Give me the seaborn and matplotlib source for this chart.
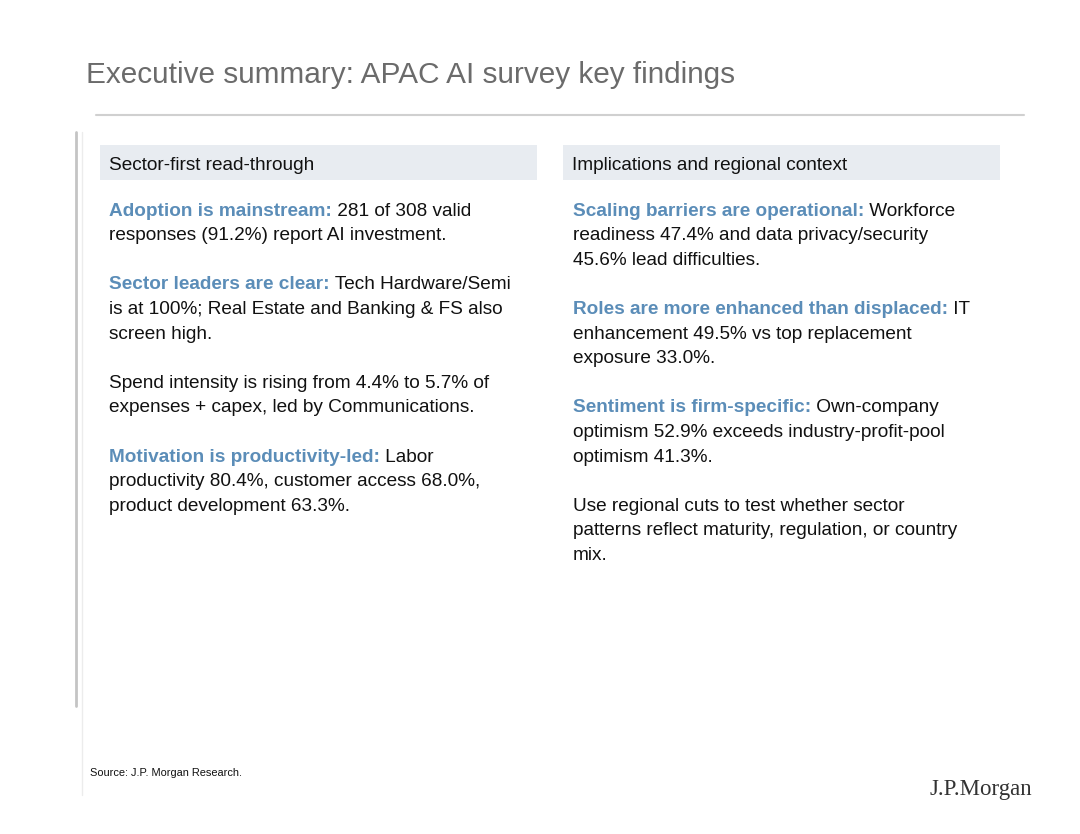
import matplotlib
matplotlib.use("Agg")
import matplotlib.pyplot as plt
import seaborn as sns

sns.set_theme(style="white")
plt.rcParams['font.family'] = ['Liberation Sans', 'DejaVu Sans']

# slide text
title = "Executive summary: APAC AI survey key findings"
left_header = "Sector-first read-through"
right_header = "Implications and regional context"
source_note = "Source: J.P. Morgan Research."
logo = "J.P.Morgan"

# each line: (bold blue part, normal part); None = blank line
left_lines = [
    ("Adoption is mainstream:", " 281 of 308 valid"),
    ("", "responses (91.2%) report AI investment."),
    None,
    ("Sector leaders are clear:", " Tech Hardware/Semi"),
    ("", "is at 100%; Real Estate and Banking & FS also"),
    ("", "screen high."),
    None,
    ("", "Spend intensity is rising from 4.4% to 5.7% of"),
    ("", "expenses + capex, led by Communications."),
    None,
    ("Motivation is productivity-led:", " Labor"),
    ("", "productivity 80.4%, customer access 68.0%,"),
    ("", "product development 63.3%."),
]
right_lines = [
    ("Scaling barriers are operational:", " Workforce"),
    ("", "readiness 47.4% and data privacy/security"),
    ("", "45.6% lead difficulties."),
    None,
    ("Roles are more enhanced than displaced:", " IT"),
    ("", "enhancement 49.5% vs top replacement"),
    ("", "exposure 33.0%."),
    None,
    ("Sentiment is firm-specific:", " Own-company"),
    ("", "optimism 52.9% exceeds industry-profit-pool"),
    ("", "optimism 41.3%."),
    None,
    ("", "Use regional cuts to test whether sector"),
    ("", "patterns reflect maturity, regulation, or country"),
    ("", "mix."),
]

blue = "#5b8db8"
ink = "#111111"
fs = 13.7

fig = plt.figure(figsize=(10.8, 8.34), dpi=100)
ax = fig.add_axes([0, 0, 1, 1])
ax.set_xlim(0, 1080)
ax.set_ylim(834, 0)
ax.axis("off")

# title and rule
ax.text(86, 75, title, fontsize=21.4, color="#6b6b6b", va="center", ha="left")
ax.plot([96, 1024], [115, 115], color="#d0d0d0", lw=1.5)

# left edge rules
ax.plot([76, 76], [132, 706], color="#c4c4c4", lw=2)
ax.plot([82, 82], [132, 795], color="#ececec", lw=1)

# column headers
for x0, label in [(100, left_header), (563, right_header)]:
    ax.add_patch(plt.Rectangle((x0, 145), 437, 35, color="#e8ecf1", lw=0))
    ax.text(x0 + 9, 165, label, fontsize=fs, color=ink, va="center", ha="left")


def draw_column(lines, x0):
    for i, line in enumerate(lines):
        if line is None:
            continue
        y = 211 + i * 24.6
        bold, rest = line
        if bold:
            t = ax.text(x0, y, bold, fontsize=fs, color=blue, fontweight="bold",
                        va="center", ha="left")
            ax.annotate(rest, xy=(1, 0.5), xycoords=t, fontsize=fs, color=ink,
                        va="center", ha="left")
        else:
            ax.text(x0, y, rest, fontsize=fs, color=ink, va="center", ha="left")


draw_column(left_lines, 109)
draw_column(right_lines, 573)

# footer
ax.text(90, 773, source_note, fontsize=7.9, color=ink, va="center", ha="left")
ax.text(1032, 790, logo, fontsize=16.5, color="#333333", va="center", ha="right",
        family=["Liberation Serif", "DejaVu Serif"])

fig.savefig("out.png", dpi=100)
